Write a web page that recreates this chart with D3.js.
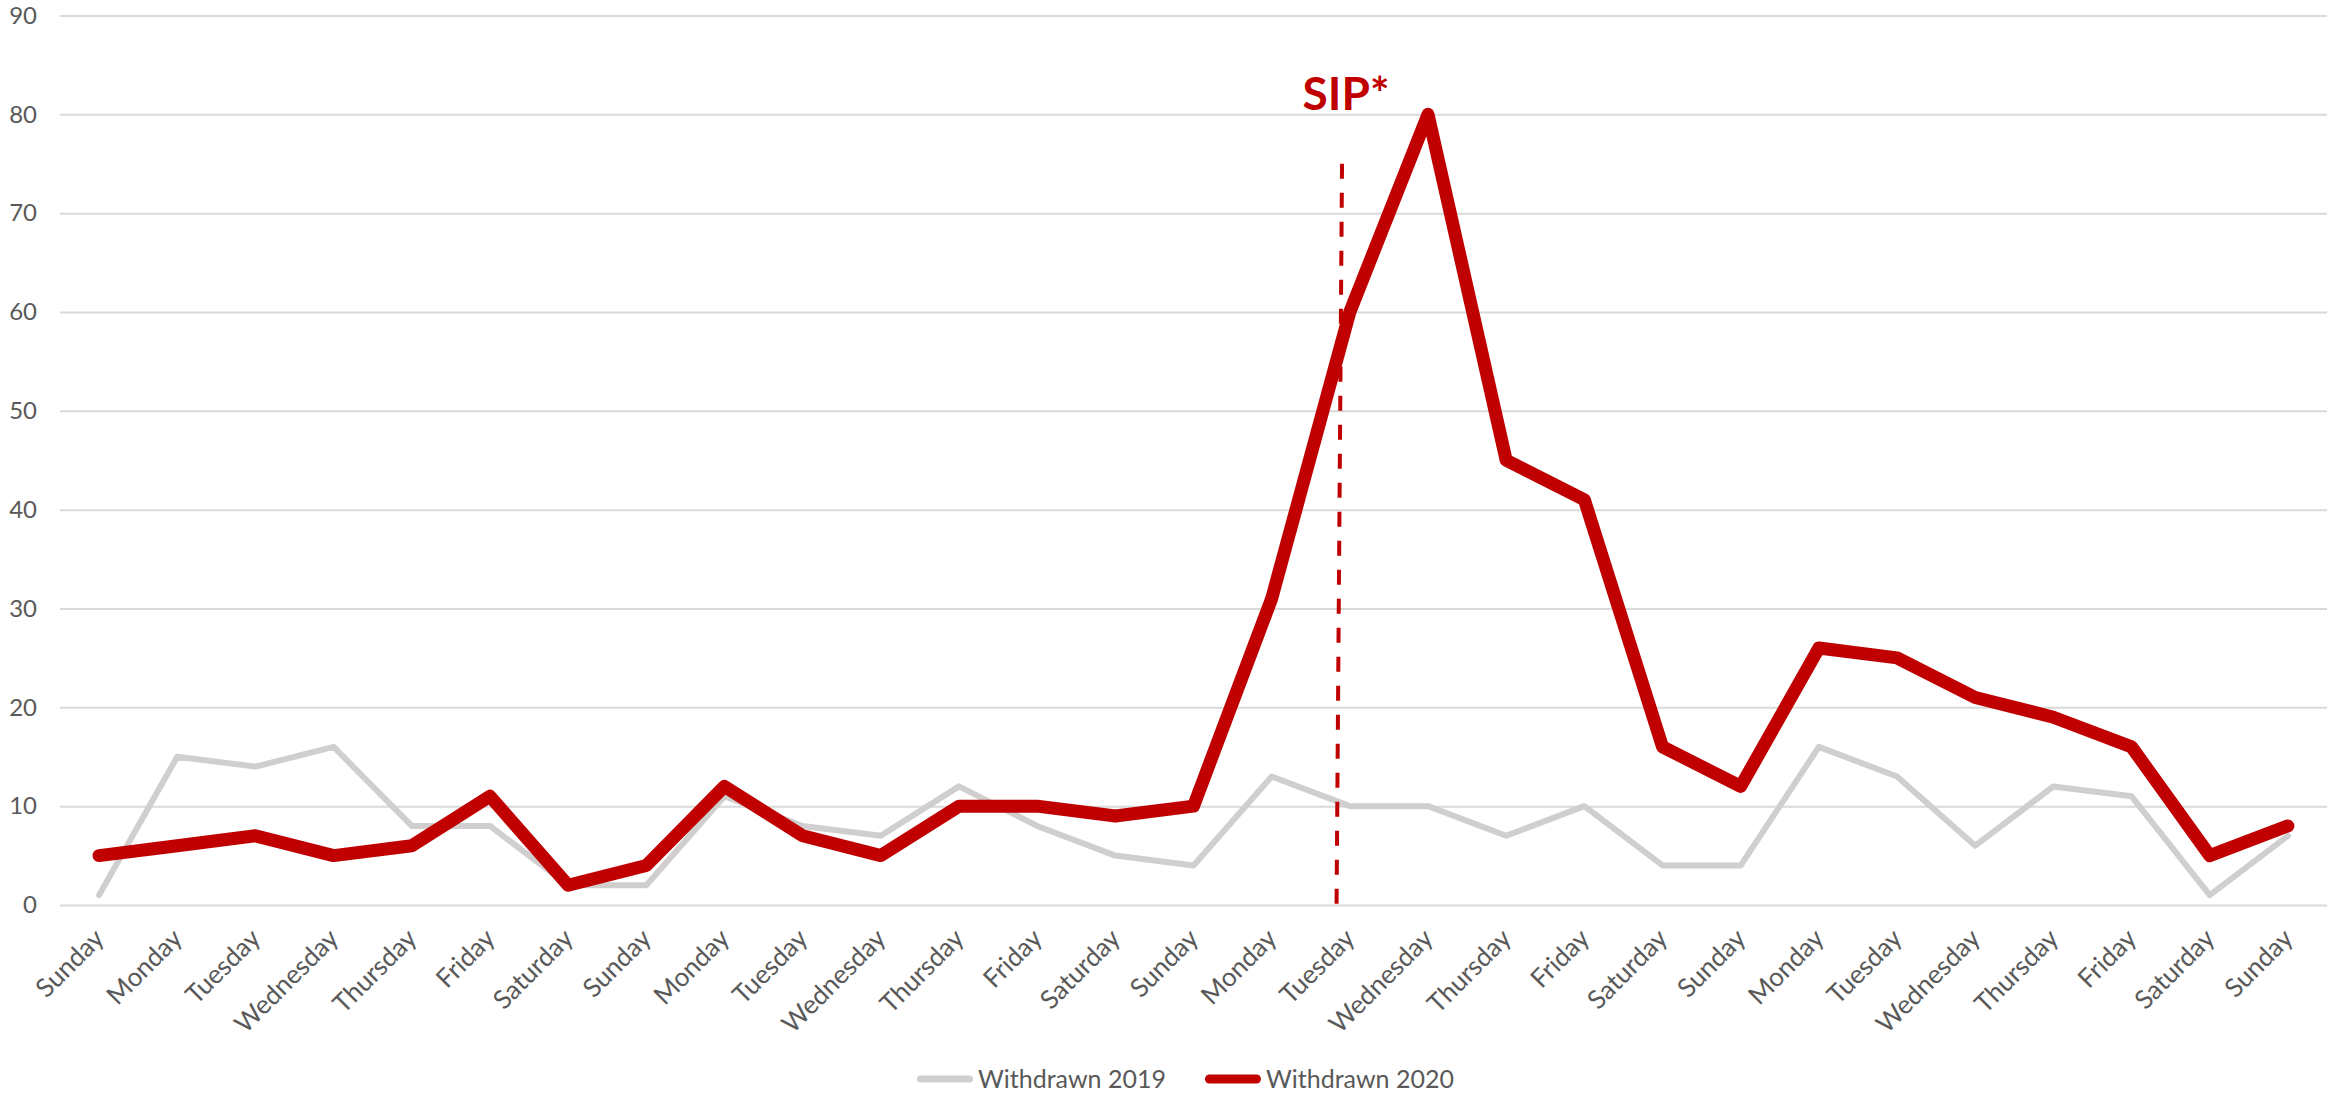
<!DOCTYPE html>
<html>
<head>
<meta charset="utf-8">
<script src="https://cdn.jsdelivr.net/npm/d3@7"></script>
<style>
  html, body { margin: 0; padding: 0; background: #fff; }
  svg { display: block; }
  text { font-family: "Lato", "Open Sans", sans-serif; fill: #595959; }
</style>
</head>
<body>
<svg id="chart" width="2330" height="1095"></svg>
<script>
// days along the x axis (four weeks, Sunday to Sunday)
var days = ["Sunday","Monday","Tuesday","Wednesday","Thursday","Friday","Saturday",
            "Sunday","Monday","Tuesday","Wednesday","Thursday","Friday","Saturday",
            "Sunday","Monday","Tuesday","Wednesday","Thursday","Friday","Saturday",
            "Sunday","Monday","Tuesday","Wednesday","Thursday","Friday","Saturday",
            "Sunday"];

var withdrawn2019 = [1,15,14,16,8,8,2,2,11,8,7,12,8,5,4,13,10,10,7,10,4,4,16,13,6,12,11,1,7];
var withdrawn2020 = [5,6,7,5,6,11,2,4,12,7,5,10,10,9,10,31,60,80,45,41,16,12,26,25,21,19,16,5,8];

var yTicks = [0,10,20,30,40,50,60,70,80,90];

// shelter in place marker, in day-index units
var sipLabel = "SIP*";
var sipTop = {i: 15.9, v: 75};
var sipBottom = {i: 15.83, v: 0};

var svg = d3.select("#chart");
var plotLeft = 60, plotRight = 2327, plotTop = 15.5, plotBottom = 905;

var idx = d3.range(days.length);
var x = d3.scalePoint().domain(idx).range([plotLeft, plotRight]).padding(0.5);
var xl = d3.scaleLinear().domain([-0.5, days.length - 0.5]).range([plotLeft, plotRight]);
var y = d3.scaleLinear().domain([0, 90]).range([plotBottom, plotTop]);

// gridlines + y labels
var yAxis = svg.append("g")
    .attr("transform", "translate(" + plotLeft + ",0)")
    .call(d3.axisLeft(y).tickValues(yTicks).tickSize(-(plotRight - plotLeft)).tickPadding(23));
yAxis.select(".domain").remove();
yAxis.selectAll(".tick line").attr("stroke", "#d9d9d9").attr("stroke-width", 2);
yAxis.selectAll(".tick text")
    .style("font-size", "24px")
    .attr("fill", "#595959");

// x labels
var xAxis = svg.append("g")
    .attr("transform", "translate(0," + plotBottom + ")")
    .call(d3.axisBottom(x).tickFormat(function(i) { return days[i]; }).tickSize(0));
xAxis.select(".domain").remove();
xAxis.selectAll(".tick text")
    .style("font-size", "26px")
    .attr("fill", "#595959")
    .attr("x", 0).attr("y", 0).attr("dy", 0)
    .attr("text-anchor", "end")
    .attr("transform", "translate(6,35) rotate(-45)");

var line = d3.line()
    .x(function(d, i) { return x(i); })
    .y(function(d) { return y(d); });

svg.append("path")
    .datum(withdrawn2019)
    .attr("fill", "none")
    .attr("stroke", "#d0cece")
    .attr("stroke-width", 6)
    .attr("stroke-linejoin", "round")
    .attr("stroke-linecap", "round")
    .attr("d", line);

svg.append("path")
    .datum(withdrawn2020)
    .attr("fill", "none")
    .attr("stroke", "#c00000")
    .attr("stroke-width", 13)
    .attr("stroke-linejoin", "round")
    .attr("stroke-linecap", "round")
    .attr("d", line);

// SIP dashed marker
svg.append("line")
    .attr("x1", xl(sipTop.i)).attr("y1", y(sipTop.v))
    .attr("x2", xl(sipBottom.i)).attr("y2", y(sipBottom.v))
    .attr("stroke", "#c00000")
    .attr("stroke-width", 4)
    .attr("stroke-dasharray", "15,14");

svg.append("text")
    .attr("x", xl(sipTop.i) + 4)
    .attr("y", 110)
    .attr("text-anchor", "middle")
    .style("font-size", "46px")
    .style("font-weight", "bold")
    .style("fill", "#c00000")
    .text(sipLabel);

// legend
var legendItems = [
  {name: "Withdrawn 2019", color: "#d0cece", w: 7},
  {name: "Withdrawn 2020", color: "#c00000", w: 9}
];
var lx = 917, ly = 1079;
legendItems.forEach(function(d) {
  var g = svg.append("g").attr("transform", "translate(" + lx + "," + ly + ")");
  g.append("line")
      .attr("x1", d.w / 2).attr("x2", 56 - d.w / 2)
      .attr("stroke", d.color).attr("stroke-width", d.w)
      .attr("stroke-linecap", "round");
  var t = g.append("text")
      .attr("x", 61).attr("dy", "0.35em")
      .style("font-size", "25px")
      .text(d.name);
  lx += 61 + t.node().getComputedTextLength() + 39;
});
</script>
</body>
</html>
